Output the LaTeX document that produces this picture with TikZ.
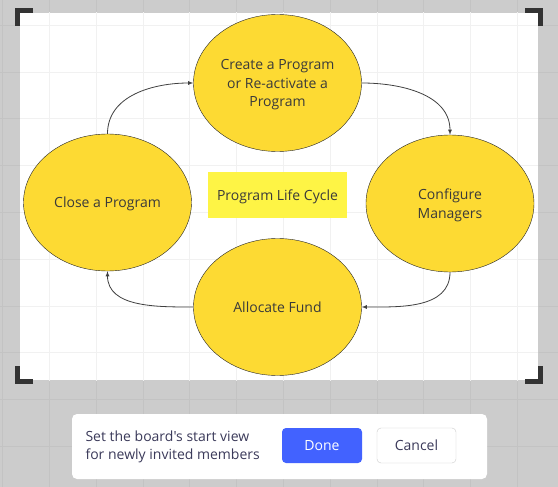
\documentclass[tikz,border=0pt]{standalone}
\usepackage{fontspec}
\setmainfont{Open Sans}
\newfontfamily\hintfont{Open Sans}[Ligatures=TeXOff]
\usepackage{xcolor}
\usetikzlibrary{shapes.geometric,arrows,positioning}
\definecolor{canvasgray}{HTML}{CCCCCC}
\definecolor{gridgray}{HTML}{C3C3C3}
\definecolor{gridwhite}{HTML}{F1F1F1}
\definecolor{stageyellow}{HTML}{FDDA33}
\definecolor{titleyellow}{HTML}{FEF445}
\definecolor{inkgray}{HTML}{3A3A3A}
\definecolor{hintnavy}{HTML}{3B3A5A}
\definecolor{doneblue}{HTML}{4262FF}
\tikzstyle{stage} = [ellipse, draw=black!85, fill=stageyellow, text=inkgray,
    minimum width=168pt, minimum height=137pt, align=center, inner sep=0pt,
    text depth=0pt, font=\fontsize{14}{18.7}\selectfont]
\tikzstyle{title} = [rectangle, fill=titleyellow, text=inkgray, text depth=0pt,
    minimum width=139pt, minimum height=46pt, font=\fontsize{14}{16}\selectfont]
\tikzstyle{arrow} = [draw=black!75, -latex, line width=0.8pt]
\tikzstyle{corner} = [draw=black!80, line width=5pt, line join=miter]
\tikzstyle{panel} = [rectangle, fill=white, rounded corners=5pt,
    minimum width=415pt, minimum height=65pt]
\tikzstyle{button} = [rectangle, rounded corners=4pt, minimum width=80pt,
    minimum height=35pt, font=\fontsize{14}{16}\selectfont]

\begin{document}
\begin{tikzpicture}[x=1pt, y=-1pt, node distance=112pt]
			\useasboundingbox (0,0) rectangle (558,487);
			% board background
			\fill [canvasgray] (0,0) rectangle (558,487);
			\foreach \i in {0,...,11} \draw [gridgray, line width=0.7pt] ({2.6+46.8*\i},0) -- ++(0,487);
			\foreach \i in {0,...,10} \draw [gridgray, line width=0.7pt] (0,{25.2+46.8*\i}) -- ++(558,0);
			\fill [white] (20,13) rectangle (538,380);
			\begin{scope}
				\clip (20,13) rectangle (538,380);
				\foreach \i in {0,...,11} \draw [gridwhite, line width=0.7pt] ({2.6+46.8*\i},0) -- ++(0,487);
				\foreach \i in {0,...,10} \draw [gridwhite, line width=0.7pt] (0,{25.2+46.8*\i}) -- ++(558,0);
			\end{scope}
			\draw [corner] (33,10.5) -- (17.5,10.5) -- (17.5,26);
			\draw [corner] (525,10.5) -- (540.5,10.5) -- (540.5,26);
			\draw [corner] (33,381.5) -- (17.5,381.5) -- (17.5,366);
			\draw [corner] (525,381.5) -- (540.5,381.5) -- (540.5,366);
			% Place nodes
			\node [title] (lifeCycle) at (277.5,195) {Program Life Cycle};
			\node [stage, above of=lifeCycle] (create) {Create a Program\\or Re-activate a\\Program};
			\node [stage, right of=lifeCycle, node distance=172.5pt, yshift=-8.5pt] (configure) {Configure\\Managers};
			\node [stage, below of=lifeCycle] (allocate) {Allocate Fund};
			\node [stage, left of=lifeCycle, node distance=170pt, yshift=-7.5pt] (close) {Close a Program};
			%
			\path [arrow] (close.north) to [out=90, in=180] (create.west);
			\path [arrow] (create.east) to [out=0, in=90] (configure.north);
			\path [arrow] (configure.south) to [out=-90, in=0] (allocate.east);
			\path [arrow] (allocate.west) to [out=180, in=-90] (close.south);
			% start view panel
			\node [panel] (panel) at (279.5,446.5) {};
			\node [anchor=west, align=left, text=hintnavy, font=\hintfont\fontsize{14}{18}\selectfont] (hint) at (82,446.5) {Set the board's start view\\for newly invited members};
			\node [button, fill=doneblue, text=white] (done) at (322,445.5) {Done};
			\node [button, draw=black!20, fill=white, text=hintnavy, minimum width=79pt] (cancel) at (416.5,445.5) {Cancel};
	\end{tikzpicture}
\end{document}
